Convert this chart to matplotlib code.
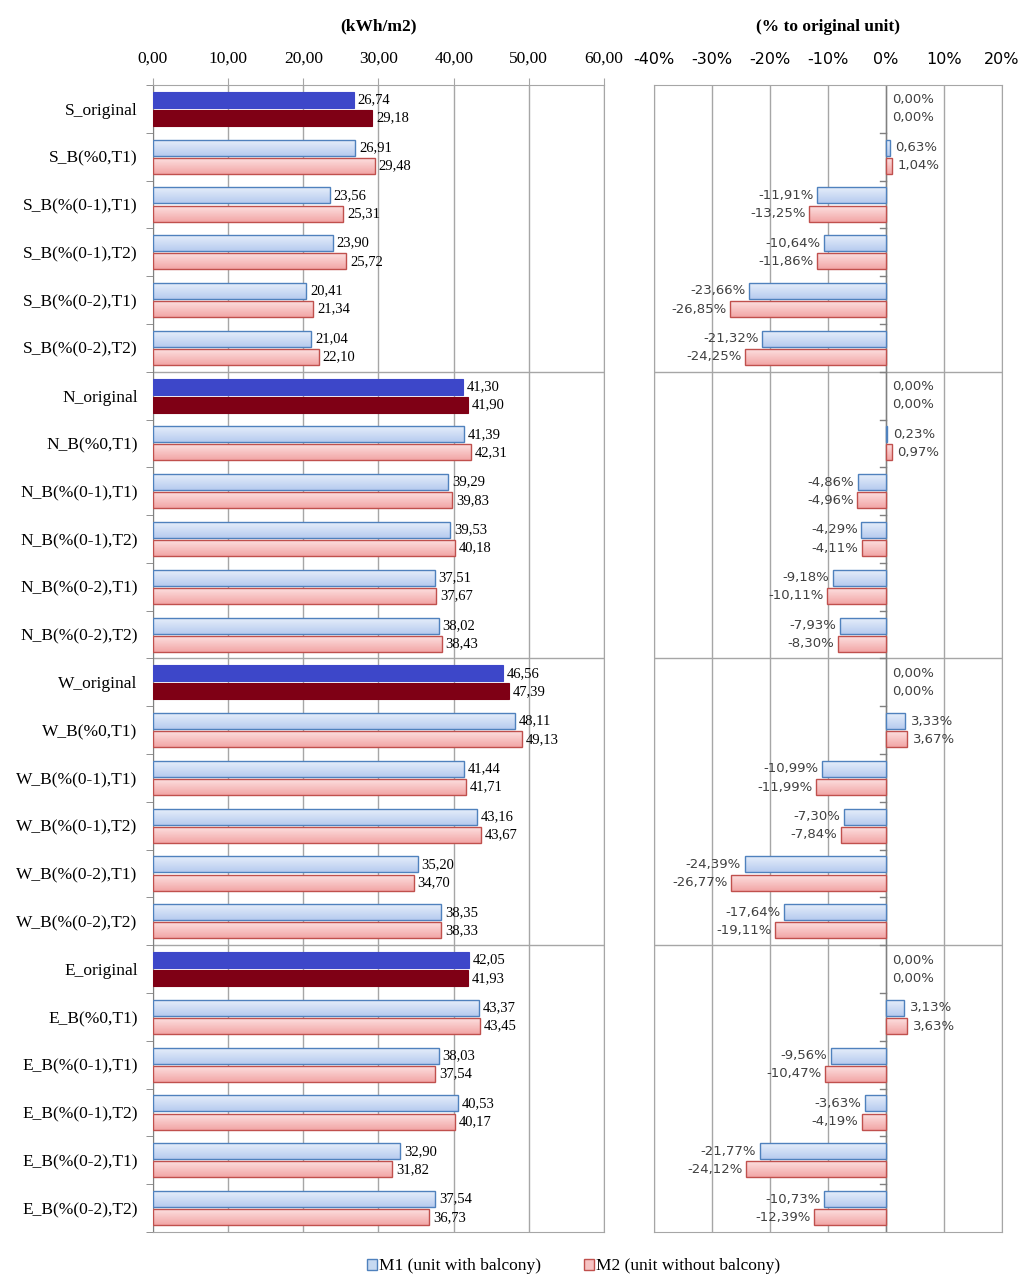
import numpy as np
import matplotlib.pyplot as plt
from matplotlib.patches import Patch
from matplotlib.colors import LinearSegmentedColormap

# data
categorias = []
for o in ['S', 'N', 'W', 'E']:
    categorias += [o + '_original', o + '_B(%0,T1)', o + '_B(%(0-1),T1)',
                   o + '_B(%(0-1),T2)', o + '_B(%(0-2),T1)', o + '_B(%(0-2),T2)']

m1_kwh = [26.74, 26.91, 23.56, 23.90, 20.41, 21.04,
          41.30, 41.39, 39.29, 39.53, 37.51, 38.02,
          46.56, 48.11, 41.44, 43.16, 35.20, 38.35,
          42.05, 43.37, 38.03, 40.53, 32.90, 37.54]
m2_kwh = [29.18, 29.48, 25.31, 25.72, 21.34, 22.10,
          41.90, 42.31, 39.83, 40.18, 37.67, 38.43,
          47.39, 49.13, 41.71, 43.67, 34.70, 38.33,
          41.93, 43.45, 37.54, 40.17, 31.82, 36.73]
m1_pct = [0.00, 0.63, -11.91, -10.64, -23.66, -21.32,
          0.00, 0.23, -4.86, -4.29, -9.18, -7.93,
          0.00, 3.33, -10.99, -7.30, -24.39, -17.64,
          0.00, 3.13, -9.56, -3.63, -21.77, -10.73]
m2_pct = [0.00, 1.04, -13.25, -11.86, -26.85, -24.25,
          0.00, 0.97, -4.96, -4.11, -10.11, -8.30,
          0.00, 3.67, -11.99, -7.84, -26.77, -19.11,
          0.00, 3.63, -10.47, -4.19, -24.12, -12.39]

serif = 'Liberation Serif'
sans = 'DejaVu Sans'
n = len(categorias)
y = np.arange(n)
h = 0.335
off = 0.19

cmap1 = LinearSegmentedColormap.from_list('m1', ['#E8F0FB', '#B7CBEF'])
cmap2 = LinearSegmentedColormap.from_list('m2', ['#FDE3E3', '#F2A6A6'])
grad = np.linspace(0, 1, 50).reshape(-1, 1)

fig = plt.figure(figsize=(10.24, 12.87), dpi=100)
ax1 = fig.add_axes([0.1494, 0.0427, 0.4404, 0.8913])
ax2 = fig.add_axes([0.6387, 0.0427, 0.3398, 0.8913])


def barras(ax, v1, v2):
    for i in range(n):
        orig = categorias[i].endswith('original')
        for v, yy, cm, ec, solid in [(v1[i], y[i] - off, cmap1, '#4F81BD', '#3D47C9'),
                                     (v2[i], y[i] + off, cmap2, '#C0504D', '#7F0015')]:
            if v == 0:
                continue
            if orig:
                ax.barh(yy, v, height=h, color=solid, edgecolor=solid, lw=0.8, zorder=3)
                continue
            p = ax.barh(yy, v, height=h, color='none', edgecolor=ec, lw=1.0, zorder=4)[0]
            im = ax.imshow(grad, extent=[min(0, v), max(0, v), yy + h / 2, yy - h / 2],
                           aspect='auto', cmap=cm, zorder=3, origin='upper')
            im.set_clip_path(p)


barras(ax1, m1_kwh, m2_kwh)
barras(ax2, m1_pct, m2_pct)

for ax in [ax1, ax2]:
    ax.set_ylim(n - 0.5, -0.5)
    for s in ax.spines.values():
        s.set_color('#A6A6A6')
    for b in [5.5, 11.5, 17.5]:
        ax.axhline(b, color='#A6A6A6', lw=1, zorder=1)
    ax.xaxis.tick_top()

# left panel
ax1.set_xlim(0, 60)
ax1.set_xticks(np.arange(0, 61, 10))
ax1.set_xticklabels([f'{t:.2f}'.replace('.', ',') for t in np.arange(0, 61, 10)],
                    fontfamily=serif, fontsize=12.5)
ax1.tick_params(axis='x', length=5, color='#A6A6A6', pad=8)
ax1.grid(axis='x', color='#A6A6A6', lw=1, zorder=0)
ax1.set_yticks(y)
ax1.set_yticklabels(categorias, fontfamily=serif, fontsize=12.5)
ax1.set_yticks(np.arange(-0.5, n, 1), minor=True)
ax1.tick_params(axis='y', which='major', length=0, pad=11)
ax1.tick_params(axis='y', which='minor', length=5, color='#808080')
ax1.spines['left'].set_color('#808080')
ax1.set_title('(kWh/m2)', fontfamily=serif, fontweight='bold', fontsize=12.5, pad=39)
for i in range(n):
    ax1.text(m1_kwh[i] + 0.5, y[i] - off, f'{m1_kwh[i]:.2f}'.replace('.', ','),
             va='center', ha='left', fontfamily=serif, fontsize=10.5, zorder=5)
    ax1.text(m2_kwh[i] + 0.5, y[i] + off, f'{m2_kwh[i]:.2f}'.replace('.', ','),
             va='center', ha='left', fontfamily=serif, fontsize=10.5, zorder=5)

# right panel
ax2.set_xlim(-40, 20)
ax2.set_xticks(np.arange(-40, 21, 10))
ax2.set_xticklabels([f'{t}%' for t in range(-40, 21, 10)], fontfamily=sans, fontsize=11.5)
ax2.tick_params(axis='x', length=0, pad=13)
ax2.grid(axis='x', color='#A6A6A6', lw=1, zorder=0)
ax2.axvline(0, color='#808080', lw=1, zorder=2)
ax2.set_yticks([])
for b in np.arange(0.5, n - 1, 1):
    ax2.plot([-1.0, 0], [b, b], color='#808080', lw=1, zorder=2)
ax2.set_title('(% to original unit)', fontfamily=serif, fontweight='bold', fontsize=12.5, pad=39)
for i in range(n):
    for v, yy in [(m1_pct[i], y[i] - off), (m2_pct[i], y[i] + off)]:
        txt = f'{v:.2f}%'.replace('.', ',')
        if v < 0:
            ax2.text(v - 0.6, yy, txt, va='center', ha='right', fontfamily=sans,
                     fontsize=9.5, color='#404040', zorder=5)
        else:
            ax2.text(v + 1.0, yy, txt, va='center', ha='left', fontfamily=sans,
                     fontsize=9.5, color='#404040', zorder=5)

handles = [Patch(facecolor='#C6D9F1', edgecolor='#4F81BD', label='M1 (unit with balcony)'),
           Patch(facecolor='#F6C3C3', edgecolor='#C0504D', label='M2 (unit without balcony)')]
fig.legend(handles=handles, loc='center', bbox_to_anchor=(0.56, 0.016), ncol=2,
           frameon=False, prop={'family': serif, 'size': 12.5}, handlelength=0.6,
           handleheight=0.6, handletextpad=0.1, columnspacing=2.5)

fig.savefig('out.png', dpi=100)
